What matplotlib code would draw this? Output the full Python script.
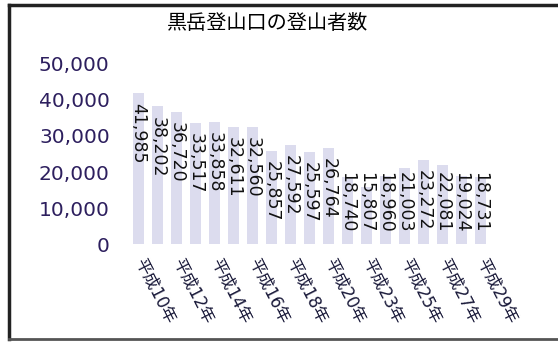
import matplotlib
matplotlib.use("Agg")
import matplotlib.pyplot as plt
from matplotlib.lines import Line2D

plt.rcParams['font.family'] = ['DejaVu Sans', 'Noto Sans CJK JP']

# 登山者数 (heisei years, one year missing between 20 and 23)
years = ['平成10年', '平成11年', '平成12年', '平成13年', '平成14年', '平成15年',
         '平成16年', '平成17年', '平成18年', '平成19年', '平成20年', '平成22年',
         '平成23年', '平成24年', '平成25年', '平成26年', '平成27年', '平成28年',
         '平成29年']
climbers = [41985, 38202, 36720, 33517, 33858, 32611, 32560, 25857, 27592,
            25597, 26764, 18740, 15807, 18960, 21003, 23272, 22081, 19024,
            18731]
yticks = [0, 10000, 20000, 30000, 40000, 50000]

fig = plt.figure(figsize=(5.58, 3.43), dpi=100)
ax = fig.add_axes([0.229, 0.2885, 0.651, 0.525])

x = range(len(climbers))
ax.bar(x, climbers, width=0.58, color='#dcdcee')

# labels sit just inside the bar top, but never lower than the fit limit
for i, v in zip(x, climbers):
    ax.text(i, max(v - 2800, 20000), f'{v:,}', rotation=270, ha='center',
            va='top', fontsize=12.5, color='#111111')

ax.set_xlim(-0.55, len(climbers) - 0.45)
ax.set_ylim(0, 50000)
ax.set_yticks(yticks)
ax.set_yticklabels([f'{t:,}' for t in yticks], fontsize=14.5, color='#2d1f5e')

ax.set_xticks(list(x)[::2])
ax.set_xticklabels(years[::2], rotation=-63, rotation_mode='anchor',
                   ha='left', va='center', fontsize=12, color='#1a1a3a')
ax.tick_params(axis='both', length=0)
ax.tick_params(axis='y', pad=13)
ax.tick_params(axis='x', pad=11)
for s in ax.spines.values():
    s.set_visible(False)

fig.text(0.48, 0.932, '黒岳登山口の登山者数', ha='center', va='center',
         fontsize=14.5, family=['Noto Sans CJK JP', 'DejaVu Sans'])

# outer frame (right side is off the picture)
fr = dict(transform=fig.transFigure, color='#222222', linewidth=2.5)
fig.add_artist(Line2D([0.016, 0.016], [0.012, 0.986], **fr))
fig.add_artist(Line2D([0.016, 1.0], [0.986, 0.986], **fr))
fig.add_artist(Line2D([0.016, 1.0], [0.012, 0.012], color='#555555',
                      linewidth=2, transform=fig.transFigure))

fig.savefig('out.png', dpi=100)
